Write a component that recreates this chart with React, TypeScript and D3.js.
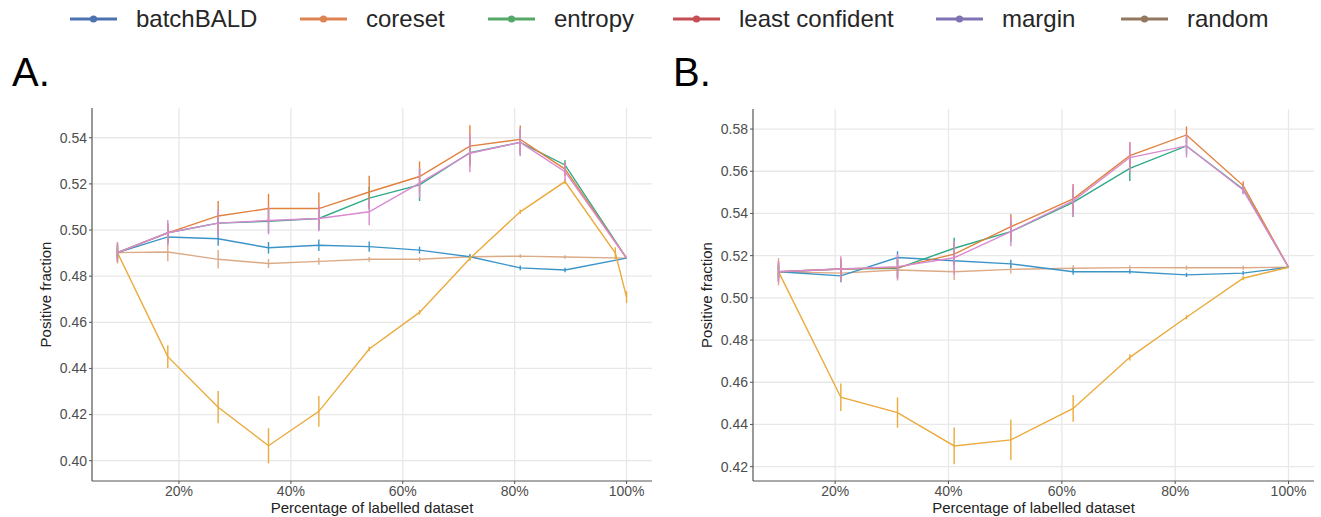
import React from "react";
import * as d3 from "d3";

// legend (seaborn-ish colours, as shown in the figure legend)
const legendNames = ["batchBALD", "coreset", "entropy", "least confident", "margin", "random"];
const legendColors = ["#4c72b0", "#dd8452", "#55a868", "#c44e52", "#8172b3", "#937860"];

// colours used for the lines inside the panels
const lineColors = {
  tan: "#dcaa86",
  blue: "#3b94c8",
  yellow: "#ebaa3c",
  green: "#2fa986",
  orange: "#e0823e",
  pink: "#d98ad0",
};

const xTicks = [20, 40, 60, 80, 100];
const yTicksA = [0.4, 0.42, 0.44, 0.46, 0.48, 0.5, 0.52, 0.54];
const yTicksB = [0.42, 0.44, 0.46, 0.48, 0.5, 0.52, 0.54, 0.56, 0.58];

// ---- panel A ----
const pctA = [9, 18, 27, 36, 45, 54, 63, 72, 81, 89, 100];
const pctAYellow = [9, 18, 27, 36, 45, 54, 63, 72, 81, 89, 98, 100];

const tanA = [0.4902, 0.4905, 0.4873, 0.4855, 0.4864, 0.4873, 0.4873, 0.4884, 0.4887, 0.4883, 0.4878];
const tanErrA = [0.0047, 0.004, 0.004, 0.002, 0.0015, 0.001, 0.001, 0.0008, 0.0008, 0.0008, 0];
const blueA = [0.4902, 0.497, 0.4962, 0.4923, 0.4934, 0.4928, 0.4913, 0.4884, 0.4836, 0.4827, 0.4878];
const blueErrA = [0.002, 0.003, 0.003, 0.0025, 0.0025, 0.0022, 0.0015, 0.0012, 0.001, 0.001, 0];
const yellowA = [0.4902, 0.4451, 0.4232, 0.4065, 0.4214, 0.4484, 0.4643, 0.4877, 0.5079, 0.521, 0.49, 0.4709];
const yellowErrA = [0.003, 0.005, 0.007, 0.0076, 0.0067, 0.001, 0.001, 0.001, 0.001, 0.001, 0.0025, 0.0025];
const greenA = [0.4902, 0.4988, 0.503, 0.5038, 0.505, 0.5138, 0.5196, 0.5335, 0.538, 0.5282, 0.4878];
const greenErrA = [0.003, 0.004, 0.004, 0.005, 0.005, 0.005, 0.007, 0.005, 0.0055, 0.002, 0];
const orangeA = [0.4902, 0.4988, 0.5061, 0.5093, 0.5093, 0.5165, 0.5232, 0.5364, 0.5393, 0.5264, 0.4878];
const orangeErrA = [0.004, 0.004, 0.0065, 0.0064, 0.007, 0.007, 0.0065, 0.009, 0.006, 0.003, 0];
const pinkA = [0.4902, 0.4988, 0.503, 0.5041, 0.505, 0.5079, 0.5203, 0.5333, 0.538, 0.5253, 0.4878];
const pinkErrA = [0.004, 0.0055, 0.006, 0.006, 0.0055, 0.0058, 0.0065, 0.0083, 0.006, 0.004, 0];

// ---- panel B ----
const pctB = [10, 21, 31, 41, 51, 62, 72, 82, 92, 100];

const tanB = [0.5124, 0.5117, 0.5132, 0.5124, 0.5135, 0.514, 0.5143, 0.5143, 0.5143, 0.5145];
const tanErrB = [0.0065, 0.004, 0.005, 0.004, 0.002, 0.0015, 0.001, 0.001, 0.001, 0];
const blueB = [0.5124, 0.5104, 0.5191, 0.5176, 0.5161, 0.5124, 0.5124, 0.5109, 0.5117, 0.5145];
const blueErrB = [0.003, 0.003, 0.003, 0.002, 0.002, 0.0015, 0.001, 0.001, 0.001, 0];
const yellowB = [0.5124, 0.4529, 0.4456, 0.4298, 0.4327, 0.4476, 0.4718, 0.4908, 0.5093, 0.5145];
const yellowErrB = [0.003, 0.0065, 0.0072, 0.0087, 0.0096, 0.0063, 0.0015, 0.001, 0.001, 0];
const greenB = [0.5124, 0.5137, 0.514, 0.5235, 0.5314, 0.5453, 0.5614, 0.572, 0.5515, 0.5145];
const greenErrB = [0.004, 0.004, 0.004, 0.005, 0.005, 0.007, 0.006, 0.004, 0.002, 0];
const orangeB = [0.5124, 0.5137, 0.5143, 0.5207, 0.5337, 0.5469, 0.5674, 0.5772, 0.5532, 0.5145];
const orangeErrB = [0.005, 0.005, 0.005, 0.005, 0.006, 0.007, 0.0065, 0.004, 0.002, 0];
const pinkB = [0.5124, 0.5137, 0.5148, 0.519, 0.5314, 0.546, 0.5665, 0.572, 0.5511, 0.5145];
const pinkErrB = [0.005, 0.006, 0.006, 0.008, 0.007, 0.0077, 0.007, 0.0055, 0.002, 0];

const FONT = "'Liberation Sans', Arial, sans-serif";

function Panel({ label, xDomain, xRange, yDomain, yRange, yTicks, series }) {
  const x = d3.scaleLinear().domain(xDomain).range(xRange);
  const y = d3.scaleLinear().domain(yDomain).range(yRange);
  const [x0, x1] = xRange;
  const [yBottom, yTop] = yRange;

  return (
    <g>
      <text x={x0 - 80} y={86} fontSize={40} fontFamily={FONT} fill="#000">{label}</text>

      {/* grid */}
      {xTicks.map(t => (
        <line key={"gx" + t} x1={x(t)} x2={x(t)} y1={yTop} y2={yBottom} stroke="#e8e8e8" strokeWidth={1.3} />
      ))}
      {yTicks.map(t => (
        <line key={"gy" + t} x1={x0} x2={x1} y1={y(t)} y2={y(t)} stroke="#e8e8e8" strokeWidth={1.3} />
      ))}

      {/* series */}
      {series.map((s, i) => {
        const pts = s.x.map((v, j) => [v, s.y[j]]);
        const line = d3.line().x(d => x(d[0])).y(d => y(d[1]));
        return (
          <g key={i}>
            <path d={line(pts)} fill="none" stroke={s.color} strokeWidth={1.4} />
            {pts.map((p, j) => s.err[j] > 0 && (
              <line key={j} x1={x(p[0])} x2={x(p[0])} y1={y(p[1] - s.err[j])} y2={y(p[1] + s.err[j])}
                stroke={s.color} strokeWidth={1.4} />
            ))}
          </g>
        );
      })}

      {/* axes */}
      <line x1={x0} x2={x0} y1={yTop} y2={yBottom} stroke="#555" strokeWidth={1.2} />
      <line x1={x0} x2={x1} y1={yBottom} y2={yBottom} stroke="#555" strokeWidth={1.2} />
      {yTicks.map(t => (
        <g key={"ty" + t}>
          <line x1={x0 - 3} x2={x0} y1={y(t)} y2={y(t)} stroke="#555" strokeWidth={1} />
          <text x={x0 - 5} y={y(t)} dy="0.35em" textAnchor="end" fontSize={14} fontFamily={FONT} fill="#4d4d4d">
            {t.toFixed(2)}
          </text>
        </g>
      ))}
      {xTicks.map(t => (
        <g key={"tx" + t}>
          <line x1={x(t)} x2={x(t)} y1={yBottom} y2={yBottom + 3} stroke="#555" strokeWidth={1} />
          <text x={x(t)} y={yBottom + 15} textAnchor="middle" fontSize={14} fontFamily={FONT} fill="#4d4d4d">
            {t + "%"}
          </text>
        </g>
      ))}
      <text x={(x0 + x1) / 2} y={513} textAnchor="middle" fontSize={15} fontFamily={FONT} fill="#222">
        Percentage of labelled dataset
      </text>
      <text transform={`translate(${x0 - 41},${(yTop + yBottom) / 2}) rotate(-90)`} textAnchor="middle"
        fontSize={15} fontFamily={FONT} fill="#222">
        Positive fraction
      </text>
    </g>
  );
}

export default function App() {
  const seriesA = [
    { x: pctA, y: tanA, err: tanErrA, color: lineColors.tan },
    { x: pctA, y: blueA, err: blueErrA, color: lineColors.blue },
    { x: pctAYellow, y: yellowA, err: yellowErrA, color: lineColors.yellow },
    { x: pctA, y: greenA, err: greenErrA, color: lineColors.green },
    { x: pctA, y: orangeA, err: orangeErrA, color: lineColors.orange },
    { x: pctA, y: pinkA, err: pinkErrA, color: lineColors.pink },
  ];
  const seriesB = [
    { x: pctB, y: tanB, err: tanErrB, color: lineColors.tan },
    { x: pctB, y: blueB, err: blueErrB, color: lineColors.blue },
    { x: pctB, y: yellowB, err: yellowErrB, color: lineColors.yellow },
    { x: pctB, y: greenB, err: greenErrB, color: lineColors.green },
    { x: pctB, y: orangeB, err: orangeErrB, color: lineColors.orange },
    { x: pctB, y: pinkB, err: pinkErrB, color: lineColors.pink },
  ];

  // legend layout
  const legendLineX = [70, 300, 488, 673, 936, 1121];

  return (
    <svg width={1321} height={517} style={{ position: "absolute", left: 0, top: 0, background: "#fff" }}>
      {legendNames.map((n, i) => (
        <g key={n}>
          <line x1={legendLineX[i]} x2={legendLineX[i] + 47} y1={19} y2={19} stroke={legendColors[i]} strokeWidth={3} />
          <circle cx={legendLineX[i] + 23.5} cy={19} r={3.6} fill={legendColors[i]} />
          <text x={legendLineX[i] + 66} y={27} fontSize={24} fontFamily={FONT} fill="#262626">{n}</text>
        </g>
      ))}

      <Panel label="A." xDomain={[4.45, 104.55]} xRange={[92, 652]} yDomain={[0.3912, 0.5529]}
        yRange={[481, 108]} yTicks={yTicksA} series={seriesA} />
      <Panel label="B." xDomain={[5.5, 104.5]} xRange={[753, 1314]} yDomain={[0.4132, 0.5895]}
        yRange={[481, 109]} yTicks={yTicksB} series={seriesB} />
    </svg>
  );
}
